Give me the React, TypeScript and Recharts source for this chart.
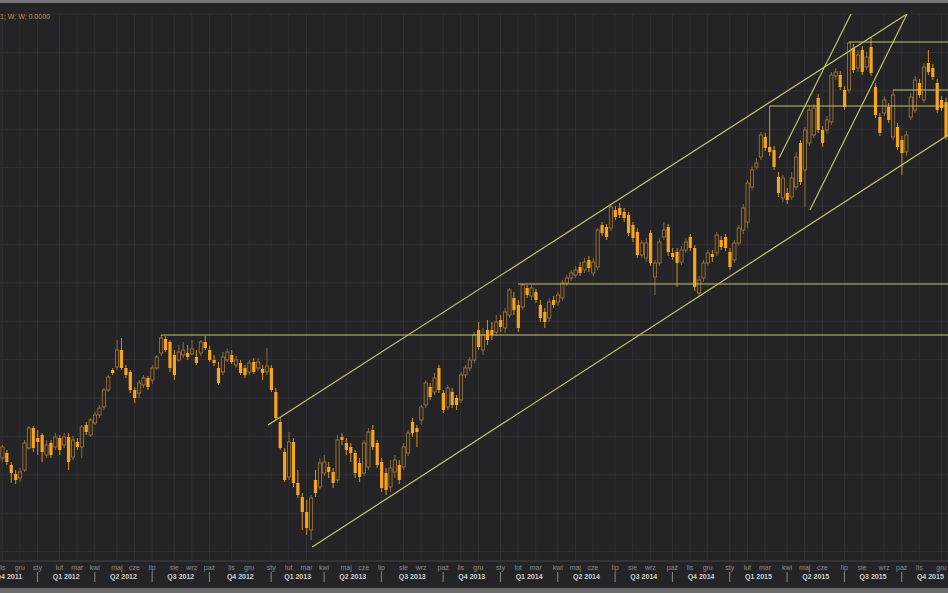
import React from "react";
import {
    Bar,
    CartesianGrid,
    ComposedChart,
    ReferenceLine,
    XAxis,
    YAxis,
} from "recharts";

// weekly candles, first week starts Mon 2011-11-07
const START = Date.UTC(2011, 10, 7);
const WEEK = 7 * 864e5;
const N = 215;

const weeks = Array.from({ length: N }, (_, i) =>
    new Date(START + i * WEEK).toISOString().slice(0, 10)
);

const MONTHS_PL = ["sty", "lut", "mar", "kwi", "maj", "cze", "lip", "sie", "wrz", "paź", "lis", "gru"];

const opens = [
    142, 147, 135, 126, 122, 130, 152, 172, 162, 165,
    145, 157, 153, 162, 155, 163, 143, 158, 153, 175,
    165, 177, 185, 193, 210, 230, 233, 250, 232, 228,
    210, 207, 215, 222, 220, 232, 247, 261, 258, 245,
    240, 245, 247, 246, 243, 247, 258, 250, 240, 232,
    228, 240, 245, 235, 237, 232, 228, 238, 232, 231,
    228, 232, 208, 178, 148, 123, 158, 117, 103, 88,
    70, 120, 113, 127, 133, 128, 120, 163, 157, 153,
    147, 137, 127, 133, 170, 157, 138, 127, 113, 128,
    135, 133, 147, 178, 172, 180, 195, 213, 208, 232,
    207, 193, 208, 202, 200, 225, 232, 240, 270, 250,
    270, 270, 268, 280, 272, 285, 302, 295, 293, 312,
    304, 308, 295, 288, 282, 300, 298, 302, 317, 322,
    325, 333, 330, 340, 327, 333, 375, 373, 372, 390,
    392, 388, 385, 375, 368, 345, 342, 367, 323, 337,
    363, 373, 347, 348, 338, 350, 363, 352, 307, 322,
    337, 346, 347, 360, 363, 348, 340, 357, 370, 378,
    413, 433, 443, 463, 453, 450, 423, 402, 407, 403,
    413, 457, 430, 457, 465, 502, 470, 470, 478, 524,
    525, 510, 510, 552, 532, 550, 533, 553, 513, 483,
    487, 493, 463, 473, 460, 448, 483, 490, 517, 500,
    537, 532, 517, 500, 498,
];

const closes = [
    153, 138, 127, 120, 128, 157, 172, 152, 158, 148,
    155, 145, 163, 150, 163, 138, 160, 153, 173, 168,
    180, 185, 192, 210, 223, 227, 250, 232, 225, 210,
    202, 217, 222, 213, 232, 243, 262, 250, 232, 225,
    248, 250, 243, 251, 237, 258, 252, 240, 237, 217,
    243, 248, 238, 240, 227, 225, 237, 228, 238, 227,
    234, 210, 182, 152, 120, 158, 117, 105, 88, 72,
    102, 107, 137, 138, 128, 117, 160, 160, 150, 147,
    127, 123, 157, 168, 153, 135, 112, 110, 132, 140,
    120, 153, 167, 167, 168, 193, 217, 203, 222, 210,
    190, 212, 195, 195, 225, 232, 240, 265, 253, 265,
    260, 265, 278, 273, 288, 310, 290, 272, 315, 305,
    312, 300, 282, 278, 298, 295, 305, 317, 322, 327,
    330, 327, 338, 332, 338, 370, 367, 363, 393, 383,
    385, 382, 367, 362, 345, 357, 357, 337, 337, 358,
    370, 348, 343, 337, 350, 358, 352, 313, 320, 337,
    347, 343, 365, 353, 352, 333, 357, 372, 392, 417,
    430, 437, 465, 452, 448, 433, 407, 422, 400, 422,
    443, 418, 470, 490, 492, 470, 457, 480, 525, 528,
    513, 493, 557, 530, 545, 528, 543, 527, 485, 467,
    500, 480, 505, 453, 447, 465, 503, 520, 505, 533,
    528, 523, 490, 492, 463,
];

const highs = [
    155, 150, 138, 130, 132, 160, 174, 174, 170, 167,
    160, 160, 167, 165, 167, 167, 164, 162, 175, 178,
    182, 188, 195, 212, 225, 232, 260, 262, 235, 230,
    213, 220, 225, 224, 235, 245, 265, 264, 260, 250,
    255, 258, 255, 260, 250, 260, 264, 254, 245, 238,
    248, 251, 250, 244, 240, 235, 240, 242, 242, 235,
    252, 235, 212, 182, 152, 168, 162, 130, 107, 100,
    105, 130, 142, 145, 138, 132, 165, 167, 162, 157,
    150, 142, 160, 172, 175, 160, 142, 132, 140, 145,
    140, 157, 170, 182, 175, 195, 220, 217, 227, 235,
    210, 215, 212, 205, 228, 235, 243, 268, 278, 272,
    280, 278, 285, 285, 292, 312, 308, 300, 316, 315,
    315, 311, 300, 292, 302, 304, 308, 320, 325, 330,
    334, 338, 342, 344, 342, 372, 378, 376, 395, 394,
    397, 392, 388, 378, 372, 360, 362, 370, 340, 362,
    378, 376, 352, 352, 354, 362, 366, 355, 324, 340,
    350, 350, 368, 364, 366, 352, 360, 375, 396, 420,
    434, 442, 468, 467, 494, 454, 428, 425, 412, 428,
    448, 460, 473, 495, 496, 506, 474, 484, 528, 532,
    529, 514, 558, 556, 550, 554, 548, 563, 517, 487,
    504, 497, 510, 477, 464, 469, 507, 524, 521, 537,
    550, 536, 521, 504, 502,
];

const lows = [
    138, 135, 117, 116, 118, 128, 150, 148, 145, 138,
    142, 142, 150, 145, 152, 130, 140, 150, 142, 165,
    163, 175, 182, 190, 208, 225, 230, 230, 222, 207,
    197, 202, 212, 210, 216, 230, 244, 248, 228, 220,
    238, 242, 240, 245, 235, 244, 250, 238, 234, 215,
    225, 238, 236, 232, 225, 222, 225, 226, 229, 220,
    225, 208, 180, 150, 118, 120, 113, 102, 70, 65,
    60, 103, 110, 124, 122, 112, 117, 155, 145, 138,
    122, 118, 124, 130, 150, 132, 108, 105, 108, 122,
    116, 130, 144, 163, 153, 175, 192, 200, 205, 207,
    187, 190, 192, 190, 197, 222, 229, 237, 250, 245,
    255, 260, 264, 268, 267, 282, 285, 268, 290, 302,
    300, 297, 278, 272, 278, 292, 294, 299, 314, 319,
    322, 324, 327, 328, 324, 330, 364, 360, 369, 380,
    382, 378, 364, 358, 342, 342, 338, 334, 305, 334,
    360, 344, 340, 313, 335, 347, 349, 309, 303, 318,
    334, 338, 344, 350, 349, 330, 337, 354, 366, 372,
    410, 430, 440, 449, 444, 430, 403, 398, 396, 400,
    410, 415, 393, 454, 462, 467, 453, 466, 475, 520,
    510, 490, 507, 527, 528, 525, 530, 524, 482, 464,
    484, 477, 460, 450, 425, 444, 480, 487, 502, 497,
    525, 520, 487, 489, 460,
];

// horizontal support / resistance levels: [from week, level]
const levels = [
    [36, 265],
    [117, 316],
    [174, 494],
    [192, 558],
    [202, 510],
];

// drawn trend lines: [[week, value], [week, value]]
const trendLines = [
    [[60.3, 175], [205.2, 586]],
    [[70.3, 53], [214.5, 465]],
    [[176.2, 442], [192.5, 586]],
    [[183.2, 390], [205.2, 586]],
];

const data = weeks.map((date, i) => ({
    idx: i,
    date,
    open: opens[i],
    high: highs[i],
    low: lows[i],
    close: closes[i],
}));

const weekOf = (y: number, m: number) => {
    const v = Math.ceil((Date.UTC(y, m, 1) - START) / WEEK);
    return v === 0 ? 0 : v;
};

const monthLabel = new Map<number, string>();
for (let y = 2011; y <= 2015; y++) {
    for (let m = 0; m < 12; m++) {
        const w = weekOf(y, m);
        if (w >= 0 && w < N) monthLabel.set(w, MONTHS_PL[m]);
    }
}
const monthTicks = Array.from(monthLabel.keys());

const quarterLabel = new Map<number, string>();
const quarterStart = new Set<number>();
for (let y = 2011; y <= 2015; y++) {
    for (let q = 0; q < 4; q++) {
        if (y === 2011 && q < 3) continue;
        const a = weekOf(y, q * 3);
        const b = weekOf(q === 3 ? y + 1 : y, q === 3 ? 0 : q * 3 + 3);
        quarterLabel.set((a + b) / 2, `Q${q + 1} ${y}`);
        if (a >= 0 && a < N) quarterStart.add(a);
    }
}
const quarterTicks = [...quarterStart, ...quarterLabel.keys()].sort((a, b) => a - b);

const Y_TOP = 586;
const Y_BOTTOM = 39;
const yTicks = Array.from({ length: 29 }, (_, k) => Y_TOP - k * 19.2).filter((v) => v > Y_BOTTOM);

const FONT = "'Liberation Sans', Arial, sans-serif";
const LINE = "#c6c26a";

const Candle = (props: any) => {
    const { x, y, width, height, payload } = props;
    const { open, close, high, low } = payload;
    const top = Math.min(y, y + height);
    const bot = Math.max(y, y + height);
    const ppu = (bot - top) / (high - low || 1);
    const py = (v: number) => top + (high - v) * ppu;
    const up = close >= open;
    const bTop = py(Math.max(open, close));
    const bBot = py(Math.min(open, close));
    const cx = x + width / 2;
    return (
        <g>
            <line x1={cx} x2={cx} y1={top} y2={bot} stroke={up ? "#8e6b36" : "#d98d1e"} strokeWidth={1} />
            <rect
                x={cx - 1.6}
                y={bTop}
                width={3.2}
                height={Math.max(1, bBot - bTop)}
                fill={up ? "#2b2620" : "#f7a41f"}
                stroke={up ? "#a57c3c" : "none"}
                strokeWidth={0.8}
            />
        </g>
    );
};

const MonthTick = (props: any) => {
    const { x, y, payload } = props;
    return (
        <text x={x} y={y + 9} textAnchor="middle" fontSize={7} fill="#8e8e8e" fontFamily={FONT}>
            {monthLabel.get(payload.value)}
        </text>
    );
};

const QuarterTick = (props: any) => {
    const { x, y, payload } = props;
    if (quarterStart.has(payload.value)) {
        return <line x1={x} x2={x} y1={y + 2} y2={y + 12} stroke="#8a8a8a" strokeWidth={1} />;
    }
    return (
        <text x={x} y={y + 8.5} textAnchor="middle" fontSize={7} fontWeight="bold" fill="#cfcfcf" fontFamily={FONT}>
            {quarterLabel.get(payload.value)}
        </text>
    );
};

export default function App() {
    return (
        <div
            style={{
                position: "absolute",
                left: 0,
                top: 0,
                width: 948,
                height: 593,
                background: "#242427",
                overflow: "hidden",
            }}
        >
            <div style={{ position: "absolute", left: 0, top: 0, width: 948, height: 3, background: "#747474" }} />
            <div style={{ position: "absolute", left: 0, top: 588, width: 948, height: 5, background: "#6c6c6c" }} />
            <ComposedChart
                width={948}
                height={593}
                data={data}
                margin={{ top: 14, right: 0, bottom: 5, left: 0 }}
            >
                <CartesianGrid stroke="#303035" strokeWidth={1} />
                <XAxis
                    dataKey="idx"
                    type="number"
                    domain={[-0.5, N - 0.5]}
                    ticks={monthTicks}
                    tick={<MonthTick />}
                    interval={0}
                    tickLine={false}
                    tickSize={0}
                    tickMargin={0}
                    axisLine={{ stroke: "#3c3c40" }}
                    height={9}
                    allowDataOverflow
                />
                <XAxis
                    xAxisId="q"
                    dataKey="idx"
                    type="number"
                    domain={[-0.5, N - 0.5]}
                    ticks={quarterTicks}
                    tick={<QuarterTick />}
                    interval={0}
                    tickLine={false}
                    tickSize={0}
                    tickMargin={0}
                    axisLine={false}
                    height={18}
                    allowDataOverflow
                />
                <XAxis xAxisId="w" dataKey="date" hide />
                <YAxis domain={[Y_BOTTOM, Y_TOP]} ticks={yTicks} hide allowDataOverflow />
                <Bar
                    xAxisId="w"
                    dataKey={(d: any) => [d.low, d.high]}
                    shape={(p: any) => <Candle {...p} />}
                    isAnimationActive={false}
                />
                {levels.map(([from, v], k) => (
                    <ReferenceLine
                        key={"lvl" + k}
                        segment={[{ x: from, y: v }, { x: N - 0.5, y: v }]}
                        stroke={LINE}
                        strokeWidth={1.2}
                        ifOverflow="hidden"
                    />
                ))}
                {trendLines.map(([a, b], k) => (
                    <ReferenceLine
                        key={"tr" + k}
                        segment={[{ x: a[0], y: a[1] }, { x: b[0], y: b[1] }]}
                        stroke={LINE}
                        strokeWidth={1.2}
                        ifOverflow="hidden"
                    />
                ))}
            </ComposedChart>
            <div
                style={{
                    position: "absolute",
                    left: 0,
                    top: 13,
                    fontFamily: FONT,
                    fontSize: 7,
                    color: "#d08e32",
                }}
            >
                1; W; W; 0.0000
            </div>
        </div>
    );
}
